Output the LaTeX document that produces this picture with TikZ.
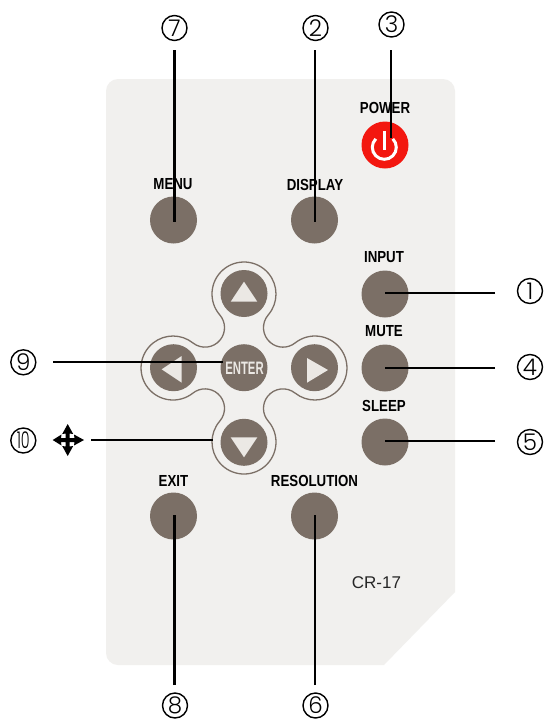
\documentclass[tikz,border=0pt]{standalone}
\usepackage{fontspec}
\setmainfont{Liberation Sans}
\newfontfamily\digfont{Poppins Light}
\definecolor{panel}{HTML}{F1F0EE}
\definecolor{btn}{HTML}{7B6F66}
\definecolor{tri}{HTML}{EBE8E4}
\definecolor{pwr}{HTML}{F3170F}
\tikzset{
  btnbox/.style={circle,fill=btn,minimum size=47pt,inner sep=0pt},
  lab/.style={font=\bfseries\fontsize{16}{16}\selectfont,text=black,inner sep=0pt},
  numlab/.style={circle,draw=black,line width=1.4pt,minimum size=25pt,inner sep=0pt,font=\digfont\fontsize{23}{23}\selectfont,text=black},
  wire/.style={draw=black,line width=2.6pt},
  tricon/.style={fill=tri,draw=none},
}
\newcommand{\nrw}[1]{\scalebox{.83}[1]{#1}}
\begin{document}
\begin{tikzpicture}[x=1pt,y=1pt,yscale=-1]
\useasboundingbox (0,0) rectangle (544,721);
\fill[white] (0,0) rectangle (544,721);
% panel
\fill[panel] (118,79) -- (443,79) arc[start angle=270,end angle=360,radius=12]
  -- (455,592) -- (384,665) -- (118,665) arc[start angle=90,end angle=180,radius=12]
  -- (106,91) arc[start angle=180,end angle=270,radius=12] -- cycle;
% cross outline
\draw[btn,line width=1.3pt]
  ([shift={(244,294)}]139.2:32) arc[start angle=139.2,end angle=400.8,radius=32]
  arc[start angle=220.8,end angle=51.6,radius=19.5]
  arc[start angle=231.6,end angle=488.4,radius=32]
  arc[start angle=308.4,end angle=139.2,radius=19.5]
  arc[start angle=-40.8,end angle=220.8,radius=32]
  arc[start angle=400.8,end angle=231.6,radius=19.5]
  arc[start angle=51.6,end angle=308.4,radius=32]
  arc[start angle=128.4,end angle=-40.8,radius=19.5] -- cycle;
% buttons
\node[btnbox] (menu) at (173.5,220) {};
\node[btnbox] (display) at (314.5,220) {};
\node[btnbox,fill=pwr] (power) at (385,145) {};
\node[btnbox] (input) at (385,294) {};
\node[btnbox] (mute) at (385,368) {};
\node[btnbox] (sleep) at (385,442) {};
\node[btnbox] (up) at (244,293.5) {};
\node[btnbox] (left) at (173.5,367.7) {};
\node[btnbox] (enter) at (244,367.7) {};
\node[font=\bfseries\fontsize{18}{18}\selectfont,text=tri,inner sep=0pt] (entertxt) at (244.5,368.3) {\scalebox{.63}[1]{ENTER}};
\node[btnbox] (right) at (314.5,367.7) {};
\node[btnbox] (down) at (244,442.3) {};
\node[btnbox] (exit) at (173.5,516) {};
\node[btnbox] (res) at (314.5,516) {};
% triangles
\fill[tricon] (244,281.7) -- (230.7,301.7) -- (257.3,301.7) -- cycle;
\fill[tricon] (181.7,356) -- (181.7,382.7) -- (161.7,369.3) -- cycle;
\fill[tricon] (307,358) -- (307,382.7) -- (328,370) -- cycle;
\fill[tricon] (230.7,437.3) -- (257.3,437.3) -- (244,457.3) -- cycle;
% power icon
\draw[white,line width=3pt] ([shift={(384.3,147.3)}]-45:12) arc[start angle=-45,end angle=225,radius=12];
\draw[white,line width=3pt] (384.3,131) -- (384.3,150);
% labels
\node[lab] (lmenu) at (173,184.5) {\nrw{MENU}};
\node[lab] (ldisp) at (315,184.5) {\nrw{DISPLAY}};
\node[lab] (lpow) at (385,107.5) {\nrw{POWER}};
\node[lab] (linp) at (384,257.5) {\nrw{INPUT}};
\node[lab] (lmute) at (384,331.5) {\nrw{MUTE}};
\node[lab] (lsleep) at (384,405.5) {\nrw{SLEEP}};
\node[lab] (lexit) at (173.5,480.5) {\nrw{EXIT}};
\node[lab] (lres) at (314.5,481) {\nrw{RESOLUTION}};
\node[font=\fontsize{17}{17}\selectfont,text=black!85,inner sep=0pt] (model) at (376.5,582.5) {CR-17};
% number labels
\node[numlab] (n7) at (174.5,28) {7};
\node[numlab] (n2) at (315.5,28) {2};
\node[numlab] (n3) at (391.5,24.5) {3};
\node[numlab] (n1) at (530,291) {1};
\node[numlab] (n4) at (530,367) {4};
\node[numlab] (n5) at (530,442) {5};
\node[numlab] (n6) at (315.5,705.5) {6};
\node[numlab] (n8) at (175,705.5) {8};
\node[numlab] (n9) at (23.3,362.3) {9};
\node[numlab] (n10) at (23.3,440.5) {\scalebox{.62}[1]{10}};
% free ends
\coordinate (w7a) at (174.5,50); \coordinate (w7b) at (174.5,222);
\coordinate (w2a) at (315,50);   \coordinate (w2b) at (315,222);
\coordinate (w3a) at (391,50);   \coordinate (w3b) at (391,138);
\coordinate (w1a) at (495,293);  \coordinate (w1b) at (385,293);
\coordinate (w4a) at (495,368);  \coordinate (w4b) at (385,368);
\coordinate (w5a) at (495,441);  \coordinate (w5b) at (385,441);
\coordinate (w9a) at (53,362);   \coordinate (w9b) at (223,362);
\coordinate (w10a) at (91,440);  \coordinate (w10b) at (213,440);
\coordinate (w8a) at (174.3,685); \coordinate (w8b) at (174.3,515);
\coordinate (w6a) at (315,685);  \coordinate (w6b) at (315,515);
\foreach \p in {7,2,3,1,4,5,9,10,8,6} \draw[wire] (w\p a) -- (w\p b);
% four-way arrow
\fill[black] (67.7,424) -- (73.2,434) -- (69.7,433.5) -- (69.7,438) -- (74.5,438) -- (74,434.5) -- (84,440) -- (74,445.5) -- (74.5,442) -- (69.7,442) -- (69.7,446.5) -- (73.2,446) -- (67.7,456) -- (62.2,446) -- (65.7,446.5) -- (65.7,442) -- (61,442) -- (61.5,445.5) -- (52.7,440) -- (61.5,434.5) -- (61,438) -- (65.7,438) -- (65.7,433.5) -- (62.2,434) -- cycle;
\end{tikzpicture}
\end{document}
